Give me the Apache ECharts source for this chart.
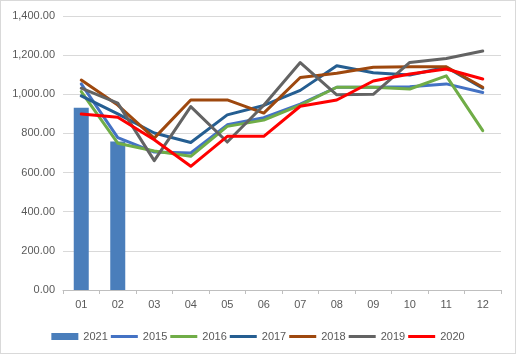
<!DOCTYPE html>
<html lang="en">
  <head>
    <meta charset="UTF-8" />
    <title>Chart</title>
    <script src="https://cdn.jsdelivr.net/npm/echarts@6.0.0/dist/echarts.min.js"></script>
    <style>
      body { margin: 0; background: #fff; }
      #main {
        width: 516px;
        height: 354px;
        border: 1px solid #d9d9d9;
        box-sizing: border-box;
      }
    </style>
  </head>
  <body>
    <div id="main"></div>
  </body>
  <script>
    // 月份
    const months = ["01", "02", "03", "04", "05", "06", "07", "08", "09", "10", "11", "12"];

    const y2021 = [931, 759];
    const y2015 = [1053, 779, 705, 700, 844, 880, 950, 1036, 1036, 1039, 1053, 1009];
    const y2016 = [1014, 750, 710, 683, 836, 868, 945, 1036, 1036, 1027, 1094, 814];
    const y2017 = [992, 900, 802, 754, 895, 943, 1020, 1146, 1110, 1099, 1138, 1031];
    const y2018 = [1073, 945, 776, 971, 971, 904, 1086, 1107, 1138, 1141, 1141, 1036];
    const y2019 = [1031, 955, 661, 937, 756, 944, 1162, 997, 1000, 1163, 1183, 1221];
    const y2020 = [899, 883, 768, 632, 785, 785, 939, 971, 1068, 1104, 1129, 1078];

    const lines = [
      { name: "2015", data: y2015, color: "#4472c4" },
      { name: "2016", data: y2016, color: "#70ad47" },
      { name: "2017", data: y2017, color: "#255e91" },
      { name: "2018", data: y2018, color: "#9e480e" },
      { name: "2019", data: y2019, color: "#636363" },
      { name: "2020", data: y2020, color: "#ff0000" },
    ];

    // 图例里的线段：上下各加一个极小的点，撑开高度，中间是3px的线
    const lineIcon = "path://M0,0h0.01v0.01h-0.01z M0,2h27v3h-27z M0,6.99h0.01v0.01h-0.01z";

    var myChart = echarts.init(document.getElementById("main"));

    var font = "'Liberation Sans', Arial, sans-serif";

    var option = {
      animation: false,
      textStyle: { fontFamily: font },
      grid: {
        left: 62,
        right: 14,
        top: 15,
        bottom: 63,
      },
      legend: {
        left: "center",
        bottom: 6,
        itemWidth: 27,
        itemHeight: 7,
        itemGap: 3,
        textStyle: { color: "#595959", fontSize: 11, fontFamily: font },
        data: [{ name: "2021", icon: "rect" }].concat(
          lines.map((l) => ({ name: l.name, icon: lineIcon }))
        ),
      },
      xAxis: {
        type: "category",
        data: months,
        axisLine: { lineStyle: { color: "#bfbfbf" } },
        axisTick: { show: true, length: 4, lineStyle: { color: "#bfbfbf" } },
        axisLabel: { color: "#595959", fontSize: 11, margin: 9 },
      },
      yAxis: {
        type: "value",
        min: 0,
        max: 1400,
        interval: 200,
        axisLine: { show: false },
        axisTick: { show: false },
        axisLabel: {
          color: "#595959",
          fontSize: 11,
          margin: 8,
          formatter: (v) =>
            v.toLocaleString("en-US", { minimumFractionDigits: 2, maximumFractionDigits: 2 }),
        },
        splitLine: { lineStyle: { color: "#d9d9d9" } },
      },
      series: [
        {
          name: "2021",
          type: "bar",
          data: y2021,
          barWidth: 15,
          itemStyle: { color: "#4a7ebb" },
        },
      ].concat(
        lines.map((l) => ({
          name: l.name,
          type: "line",
          data: l.data,
          symbol: "none",
          color: l.color,
          itemStyle: { color: l.color },
          lineStyle: { width: 3, color: l.color, cap: "round", join: "round" },
        }))
      ),
    };

    myChart.setOption(option);
  </script>
</html>
